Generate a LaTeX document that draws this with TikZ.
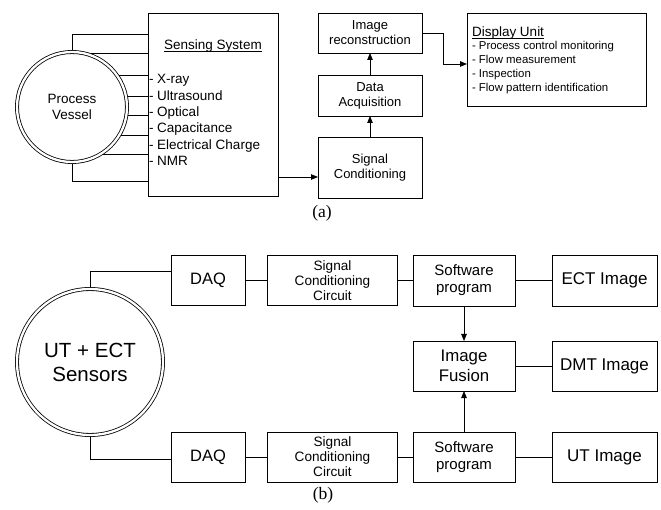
\documentclass[tikz,border=0pt]{standalone}
\usepackage{fontspec}
\setmainfont{Liberation Sans}
\newfontfamily\capfont{Liberation Serif}
\usetikzlibrary{arrows.meta}
\newcommand\myul[1]{\setbox0\hbox{#1}\rlap{\rule[-1.8pt]{\wd0}{0.6pt}}\box0}
\begin{document}
\begin{tikzpicture}[x=1pt,y=-1pt,
  every node/.style={inner sep=0pt, outer sep=0pt},
  ln/.style={line width=0.8pt},
  box/.style={draw, line width=0.8pt, align=center},
  ring/.style={draw, circle, line width=0.8pt, double, double distance=2.3pt, outer sep=1.95pt, align=center},
  arr/.style={line width=0.8pt, -{Triangle[length=7pt,width=5.5pt]}},
  fa/.style={font=\fontsize{13.5}{16.4}\selectfont},
  fbx/.style={font=\fontsize{13}{15}\selectfont},
  fdi/.style={font=\fontsize{11.4}{13.7}\selectfont},
  fscc/.style={font=\fontsize{13.6}{15}\selectfont},
  fcap/.style={font=\capfont\fontsize{17.5}{20}\selectfont}
]
\useasboundingbox (0,0) rectangle (661,510);

% ---------- (a) ----------
\node[ring, minimum size=110pt, fa] (vessel) at (72,107) {Process\\Vessel};
\node[box, minimum width=130pt, minimum height=183pt] (sens) at (213,104.5) {};
\node[fa, anchor=base] (senstitle) at (213,50) {\myul{Sensing System}};
\foreach \t [count=\i] in {X-ray,Ultrasound,Optical,Capacitance,Electrical Charge,NMR}
  \node[fa, anchor=base west] (sitem\i) at (149,{67.7+16.3*\i}) {- \t};

\node[box, fbx, minimum width=104pt, minimum height=40pt] (ir) at (370,33) {Image\\reconstruction};
\node[box, fbx, minimum width=104pt, minimum height=41pt] (da) at (370,95.5) {Data\\Acquisition};
\node[box, fbx, minimum width=104pt, minimum height=61pt] (sc) at (370,167.5) {Signal\\Conditioning};
\node[box, minimum width=179pt, minimum height=93pt] (disp) at (556.5,59.5) {};
\node[fa, anchor=base west] (disptitle) at (472,37) {\myul{Display Unit}};
\foreach \t [count=\i] in {Process control monitoring,Flow measurement,Inspection,Flow pattern identification}
  \node[fdi, anchor=base west] (ditem\i) at (472,{36.3+13.7*\i}) {- \t};

\draw[ln] (vessel.north) |- (sens.west |- 0,34);
\draw[ln] (vessel.south) |- (sens.west |- 0,181);
\foreach \dy in {54,32,11,-8,-29,-48} {
  \pgfmathsetmacro\ang{asin(\dy/57)}
  \draw[ln] (vessel.\ang) -- (sens.west |- vessel.\ang);
}
\draw[arr] (sens.east |- 0,177) -- (sc.west |- 0,177);
\draw[arr] (sc.north) -- (da.south);
\draw[arr] (da.north) -- (ir.south);
\draw[arr] (ir.east) -- ++(21,0) |- (disp.west |- 0,64);

\node[fcap] (la) at (322,213) {(a)};

% ---------- (b) ----------
\node[ring, minimum size=146pt, font=\fontsize{20.5}{24}\selectfont] (sensors) at (90,362) {UT + ECT\\Sensors};

\node[box, minimum width=74pt, minimum height=50pt, font=\fontsize{16.5}{19}\selectfont] (daq1) at (208,280.5) {DAQ};
\node[box, minimum width=130pt, minimum height=50pt, fscc] (scc1) at (332.5,280.5) {Signal\\Conditioning\\Circuit};
\node[box, minimum width=102pt, minimum height=51pt, font=\fontsize{15}{17}\selectfont] (sp1) at (464,280.5) {Software\\program};
\node[box, minimum width=105pt, minimum height=51pt, font=\fontsize{17}{20}\selectfont] (ect) at (604.5,280.5) {ECT Image};

\node[box, minimum width=102pt, minimum height=50pt, font=\fontsize{16.8}{20}\selectfont] (fus) at (464,366) {Image\\Fusion};
\node[box, minimum width=105pt, minimum height=50pt, font=\fontsize{17}{20}\selectfont] (dmt) at (604.5,366) {DMT Image};

\node[box, minimum width=74pt, minimum height=50pt, font=\fontsize{16.5}{19}\selectfont] (daq2) at (208,457) {DAQ};
\node[box, minimum width=130pt, minimum height=50pt, fscc] (scc2) at (332.5,457) {Signal\\Conditioning\\Circuit};
\node[box, minimum width=102pt, minimum height=50pt, font=\fontsize{15}{17}\selectfont] (sp2) at (464,457) {Software\\program};
\node[box, minimum width=105pt, minimum height=50pt, font=\fontsize{17}{20}\selectfont] (ut) at (604.5,457.5) {UT Image};

\draw[ln] (sensors.north) |- (daq1.west |- 0,271);
\draw[ln] (sensors.south) |- (daq2.west |- 0,459);
\draw[ln] (daq1.east) -- (scc1.west);
\draw[ln] (scc1.east) -- (sp1.west);
\draw[ln] (sp1.east) -- (ect.west);
\draw[ln] (fus.east) -- (dmt.west);
\draw[ln] (daq2.east) -- (scc2.west);
\draw[ln] (scc2.east) -- (sp2.west);
\draw[ln] (sp2.east) -- (ut.west |- sp2.east);
\draw[arr] (sp1.south) -- (fus.north);
\draw[arr] (sp2.north) -- (fus.south);

\node[fcap] (lb) at (323,495) {(b)};
\end{tikzpicture}
\end{document}
